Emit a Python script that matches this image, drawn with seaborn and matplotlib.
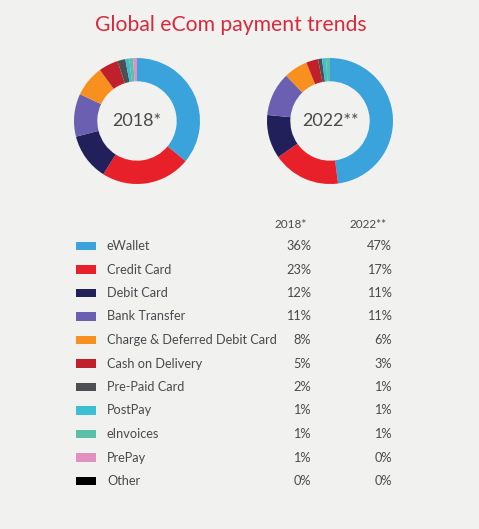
import matplotlib
matplotlib.use("Agg")
import matplotlib.pyplot as plt
import seaborn as sns
import numpy as np
import pandas as pd

# ---- data ----
categories = ["eWallet", "Credit Card", "Debit Card", "Bank Transfer",
              "Charge & Deferred Debit Card", "Cash on Delivery", "Pre-Paid Card",
              "PostPay", "eInvoices", "PrePay", "Other"]
share_2018 = [36, 23, 12, 11, 8, 5, 2, 1, 1, 1, 0]
share_2022 = [47, 17, 11, 11, 6, 3, 1, 1, 1, 0, 0]
colors = ["#3aa3dc", "#e8202a", "#22205a", "#6a5fb0", "#f7901e", "#c0202a",
          "#4d4f53", "#3dbfd3", "#5cc0a8", "#e190c0", "#000000"]
years = ["2018*", "2022**"]
title = "Global eCom payment trends"

sns.set_theme(style="white")
plt.rcParams["font.family"] = ["Lato", "DejaVu Sans"]

W, H = 479, 529
bg = "#f1f1f0"
text_col = "#4a4a4a"
palette = sns.color_palette(colors)

fig = plt.figure(figsize=(W / 100, H / 100), dpi=100, facecolor=bg)

# overlay axes in pixel coords
ax = fig.add_axes([0, 0, 1, 1])
ax.set_xlim(0, W)
ax.set_ylim(H, 0)
ax.axis("off")
ax.patch.set_alpha(0)

ax.text(231, 25, title, ha="center", va="center", fontsize=15.2, color="#d52b3c")

# donuts
R = 63
for cx, vals, yr in [(137, share_2018, years[0]), (330, share_2022, years[1])]:
    dax = fig.add_axes([(cx - R) / W, 1 - (121 + R) / H, 2 * R / W, 2 * R / H])
    dax.pie(vals, colors=palette, startangle=90, counterclock=False,
            wedgeprops=dict(width=0.37, edgecolor="none"), radius=1)
    dax.set_xlim(-1, 1)
    dax.set_ylim(-1, 1)
    dax.set_aspect("equal")
    dax.axis("off")
    dax.text(0, 0, yr, ha="center", va="center", fontsize=13, color=text_col)

# table
y0, dy = 246, 23.5
rows = [y0 + i * dy for i in range(len(categories))]
df = pd.DataFrame({"cat": categories, "y": rows, "x": 86})
rect = [(-1, -0.4), (1, -0.4), (1, 0.4), (-1, 0.4), (-1, -0.4)]
sns.scatterplot(data=df, x="x", y="y", hue="cat", palette=palette, marker=rect,
                s=210, linewidth=0, legend=False, ax=ax)
ax.set_xlim(0, W)
ax.set_ylim(H, 0)
ax.set_xlabel("")
ax.set_ylabel("")

ax.text(307, 224, years[0], ha="right", va="center", fontsize=8.5, color=text_col)
ax.text(387, 224, years[1], ha="right", va="center", fontsize=8.5, color=text_col)
for y, c, a, b in zip(rows, categories, share_2018, share_2022):
    ax.text(107, y, c, ha="left", va="center", fontsize=9.2, color=text_col)
    ax.text(311, y, f"{a}%", ha="right", va="center", fontsize=9.2, color=text_col)
    ax.text(392, y, f"{b}%", ha="right", va="center", fontsize=9.2, color=text_col)

fig.savefig("out.png", dpi=100, facecolor=bg)
